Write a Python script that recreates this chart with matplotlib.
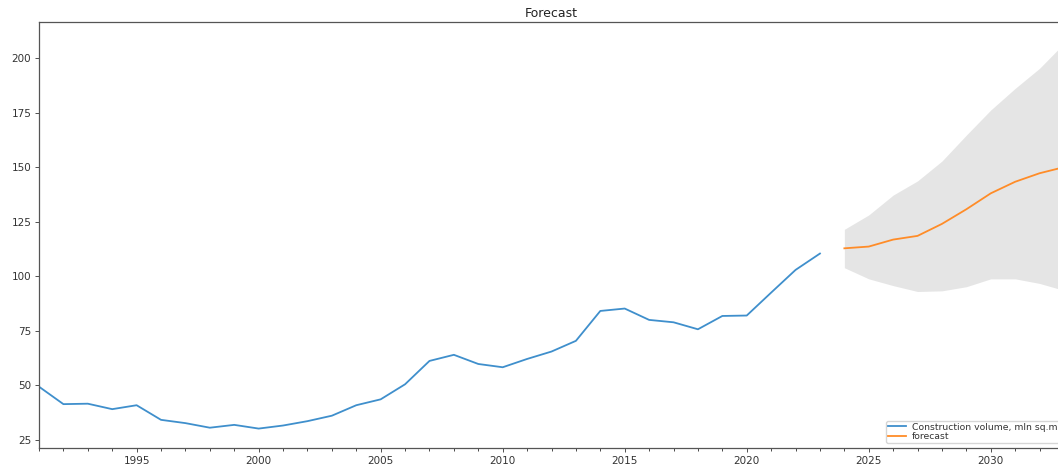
import numpy as np
import matplotlib
matplotlib.use("Agg")
import matplotlib.pyplot as plt

years = list(range(1991, 2024))
volume = [49.4, 41.4, 41.6, 39.1, 40.9, 34.2, 32.7, 30.6, 31.9, 30.2,
          31.6, 33.6, 36.1, 40.9, 43.6, 50.5, 61.2, 64.0, 59.8, 58.3,
          62.1, 65.5, 70.4, 84.1, 85.2, 80.0, 78.9, 75.7, 81.8, 82.0,
          92.5, 102.9, 110.4]

# forecast and its confidence band
fc_years = list(range(2024, 2034))
forecast = [112.8, 113.6, 116.8, 118.5, 124.0, 130.7, 138.0, 143.3, 147.2, 150.0]
fc_upper = [121.5, 128.1, 137.2, 143.7, 152.8, 164.7, 176.2, 186.1, 195.3, 206.7]
fc_lower = [103.9, 98.8, 95.7, 93.0, 93.3, 95.2, 98.8, 98.8, 96.7, 93.5]

fig = plt.figure(figsize=(10.58, 4.65), dpi=100)
# axes runs a little past the right edge, like the cropped screenshot
ax = fig.add_axes([39 / 1058, 1 - 448 / 465, 1025 / 1058, 426 / 465])

ax.plot(years, volume, color="#3f8fcc", lw=1.3, label="Construction volume, mln sq.m")
ax.plot(fc_years, forecast, color="#ff8c28", lw=1.3, label="forecast")
ax.fill_between(fc_years, fc_lower, fc_upper, color="gray", alpha=0.2, lw=0)

ax.set_xlim(1991, 2033)
ax.set_ylim(21.3, 216.5)
ax.set_xticks(range(1995, 2034, 5))
ax.set_xticks(range(1991, 2034), minor=True)
ax.set_yticks(range(25, 201, 25))
ax.tick_params(labelsize=7.5, colors="#333333", length=3, width=0.6, pad=2.5)
ax.tick_params(which="minor", length=2, width=0.5)
for s in ax.spines.values():
    s.set_color("#555555")
    s.set_linewidth(0.9)

ax.set_title("Forecast", fontsize=9, pad=3.5, color="#222222")
leg = ax.legend(loc="lower right", fontsize=6.7, frameon=True, borderpad=0.2,
                handlelength=2.0, labelspacing=0.1, handletextpad=0.6,
                borderaxespad=0.5)
for t in leg.get_texts():
    t.set_color("#333333")

fig.savefig("out.png", dpi=100)
